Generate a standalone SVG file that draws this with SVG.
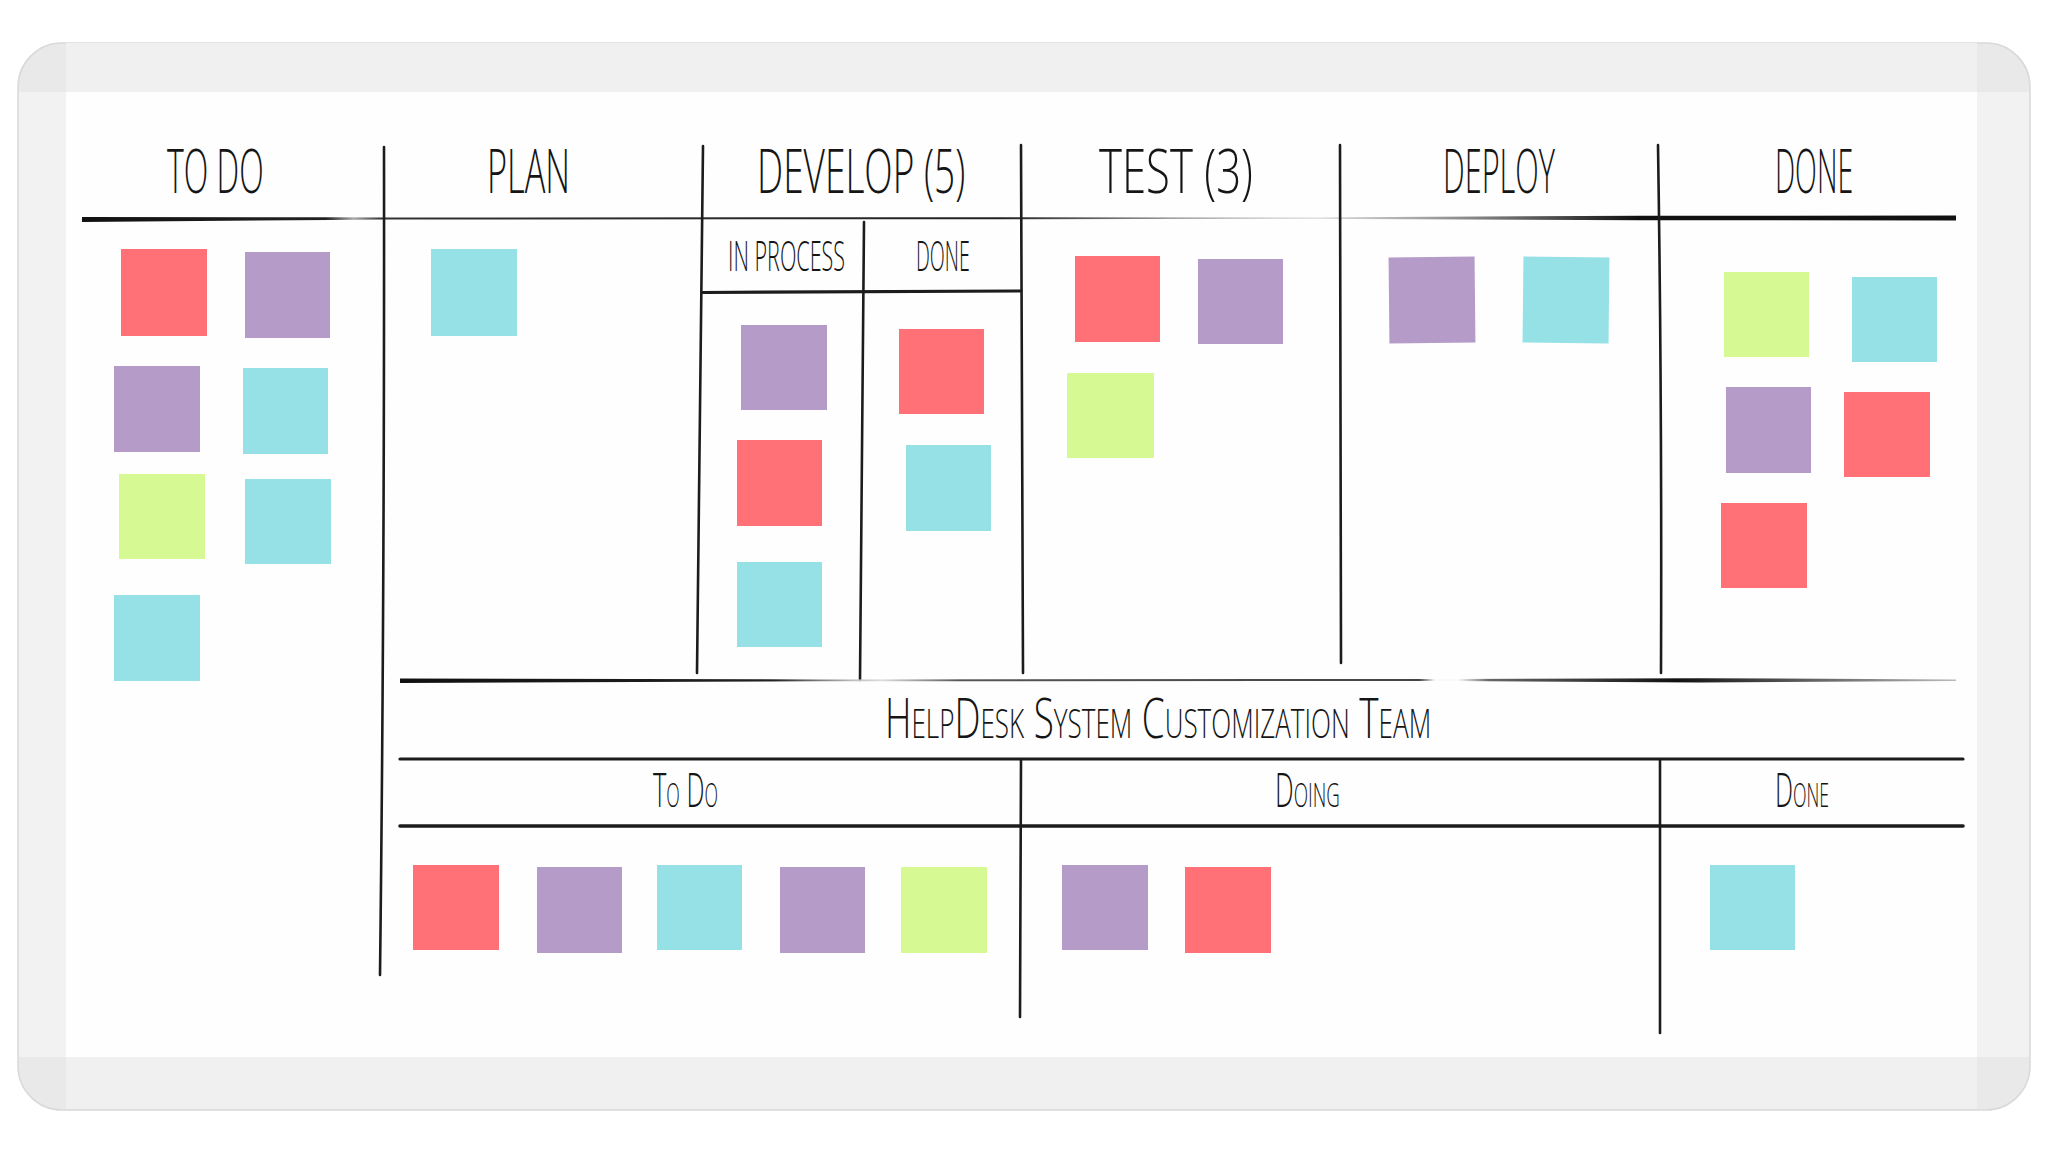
<svg xmlns="http://www.w3.org/2000/svg" width="2048" height="1152" viewBox="0 0 2048 1152">
  <defs>
    <style>
      .note { stroke: none; }
      .red { fill: #ff7176; }
      .purple { fill: #b59bc8; }
      .cyan { fill: #96e1e6; }
      .green { fill: #d7f994; }
      .ln { fill: none; stroke: #1c1c1c; stroke-linecap: round; }
      .v { stroke-width: 2.6; }
      .h { stroke-width: 3.2; }
      .hdr { font-family: "Open Sans", "DejaVu Sans", sans-serif; font-weight: 300; fill: #151515; }
      .big { font-size: 60px; }
      .sub { font-size: 42px; }
      .team { font-size: 56px; font-variant: small-caps; }
      .lane { font-size: 47px; font-variant: small-caps; }
    </style>
    <linearGradient id="gTop" gradientUnits="userSpaceOnUse" x1="82" y1="0" x2="1956" y2="0">
      <stop offset="0" stop-color="#111"/>
      <stop offset="0.13" stop-color="#222"/>
      <stop offset="0.145" stop-color="#aaa"/>
      <stop offset="0.16" stop-color="#333"/>
      <stop offset="0.49" stop-color="#222"/>
      <stop offset="0.58" stop-color="#999"/>
      <stop offset="0.66" stop-color="#ddd"/>
      <stop offset="0.74" stop-color="#888"/>
      <stop offset="0.83" stop-color="#111"/>
      <stop offset="1" stop-color="#111"/>
    </linearGradient>
    <linearGradient id="gTeam" gradientUnits="userSpaceOnUse" x1="400" y1="0" x2="1956" y2="0">
      <stop offset="0" stop-color="#111"/>
      <stop offset="0.24" stop-color="#222"/>
      <stop offset="0.29" stop-color="#bbb"/>
      <stop offset="0.31" stop-color="#ddd"/>
      <stop offset="0.36" stop-color="#555"/>
      <stop offset="0.655" stop-color="#444"/>
      <stop offset="0.665" stop-color="#fafafa"/>
      <stop offset="0.68" stop-color="#fafafa"/>
      <stop offset="0.70" stop-color="#666"/>
      <stop offset="0.82" stop-color="#111"/>
      <stop offset="0.93" stop-color="#777"/>
      <stop offset="1" stop-color="#bbb"/>
    </linearGradient>
  </defs>

  <rect x="0" y="0" width="2048" height="1152" fill="#ffffff"/>

  <g id="board">
    <rect x="18" y="43" width="2012" height="1067" rx="44" ry="44" fill="#e9e9ea" stroke="#d9d9da" stroke-width="1.5"/>
    <rect x="66" y="43" width="1911" height="49" fill="#f0f0f1"/>
    <rect x="66" y="1057" width="1911" height="52" fill="#f0f0f1"/>
    <rect x="19" y="92" width="47" height="965" fill="#f2f2f3"/>
    <rect x="1977" y="92" width="52" height="965" fill="#f2f2f3"/>
    <rect x="66" y="92" width="1911" height="965" fill="#fefefe"/>
  </g>

  <g id="connectors">
    <path d="M82,217 L330,217.2 L384,217.6 L1000,217.2 L1300,217.4 L1640,215.8 L1956,215.6 L1956,220.4 L1640,220.2 L1300,218.8 L1000,219.2 L384,219.6 L330,220 L82,222 Z" fill="url(#gTop)"/>
    <path class="ln v" d="M384,147 Q384.5,600 380,975"/>
    <path class="ln v" d="M703,146 L697,673"/>
    <path class="ln v" d="M864,222 L860,680"/>
    <path class="ln v" d="M1021,145 L1023,673"/>
    <path class="ln v" d="M1340,145 L1341,663"/>
    <path class="ln v" d="M1658,145 Q1662,400 1661,673"/>
    <path class="ln h" d="M703,292.5 L1021,291"/>
    <path d="M400,678.5 L820,679.4 L1420,679 L1455,679 L1700,678.2 L1956,679.5 L1956,681 L1700,682.6 L1455,681 L1420,681 L820,681.2 L400,683 Z" fill="url(#gTeam)"/>
    <path class="ln h" d="M400,759 L1963,759"/>
    <path class="ln" stroke-width="3.6" d="M400,826 L1963,826"/>
    <path class="ln v" d="M1021,760 L1020,1017"/>
    <path class="ln v" d="M1660,760 L1660,1033"/>
  </g>

  <g id="col-todo">
    <text class="hdr big" transform="translate(167,193) scale(0.52,1)" x="0" y="0" textLength="186" lengthAdjust="spacingAndGlyphs">TO DO</text>
    <rect class="note red" x="121" y="249" width="86" height="87"/>
    <rect class="note purple" x="245" y="252" width="85" height="86"/>
    <rect class="note purple" x="114" y="366" width="86" height="86"/>
    <rect class="note cyan" x="243" y="368" width="85" height="86"/>
    <rect class="note green" x="119" y="474" width="86" height="85"/>
    <rect class="note cyan" x="245" y="479" width="86" height="85"/>
    <rect class="note cyan" x="114" y="595" width="86" height="86"/>
  </g>

  <g id="col-plan">
    <text class="hdr big" transform="translate(487,193) scale(0.55,1)" x="0" y="0" textLength="151" lengthAdjust="spacingAndGlyphs">PLAN</text>
    <rect class="note cyan" x="431" y="249" width="86" height="87"/>
  </g>

  <g id="col-develop">
    <text class="hdr big" transform="translate(757,193) scale(0.6,1)" x="0" y="0" textLength="347" lengthAdjust="spacingAndGlyphs">DEVELOP (5)</text>
    <g id="develop-inprocess">
      <text class="hdr sub" transform="translate(728,271) scale(0.5,1)" x="0" y="0" textLength="234" lengthAdjust="spacingAndGlyphs">IN PROCESS</text>
      <rect class="note purple" x="741" y="325" width="86" height="85"/>
      <rect class="note red" x="737" y="440" width="85" height="86"/>
      <rect class="note cyan" x="737" y="562" width="85" height="85"/>
    </g>
    <g id="develop-done">
      <text class="hdr sub" transform="translate(916,271) scale(0.46,1)" x="0" y="0" textLength="117" lengthAdjust="spacingAndGlyphs">DONE</text>
      <rect class="note red" x="899" y="329" width="85" height="85"/>
      <rect class="note cyan" x="906" y="445" width="85" height="86"/>
    </g>
  </g>

  <g id="col-test">
    <text class="hdr big" transform="translate(1099,193) scale(0.7,1)" x="0" y="0" textLength="220" lengthAdjust="spacingAndGlyphs">TEST (3)</text>
    <rect class="note red" x="1075" y="256" width="85" height="86"/>
    <rect class="note purple" x="1198" y="259" width="85" height="85"/>
    <rect class="note green" x="1067" y="373" width="87" height="85"/>
  </g>

  <g id="col-deploy">
    <text class="hdr big" transform="translate(1443,193) scale(0.5,1)" x="0" y="0" textLength="224" lengthAdjust="spacingAndGlyphs">DEPLOY</text>
    <rect class="note purple" x="1389" y="257" width="86" height="86" transform="rotate(-0.6 1432 300)"/>
    <rect class="note cyan" x="1523" y="257" width="86" height="86" transform="rotate(0.6 1566 300)"/>
  </g>

  <g id="col-done">
    <text class="hdr big" transform="translate(1775,193) scale(0.46,1)" x="0" y="0" textLength="170" lengthAdjust="spacingAndGlyphs">DONE</text>
    <rect class="note green" x="1724" y="272" width="85" height="85"/>
    <rect class="note cyan" x="1852" y="277" width="85" height="85"/>
    <rect class="note purple" x="1726" y="387" width="85" height="86"/>
    <rect class="note red" x="1844" y="392" width="86" height="85"/>
    <rect class="note red" x="1721" y="503" width="86" height="85"/>
  </g>

  <g id="team-title">
    <text class="hdr team" transform="translate(885,738) scale(0.55,1)" x="0" y="0" textLength="993" lengthAdjust="spacingAndGlyphs">HelpDesk System Customization Team</text>
  </g>

  <g id="team-todo">
    <text class="hdr lane" transform="translate(653,807) scale(0.52,1)" x="0" y="0" textLength="125" lengthAdjust="spacingAndGlyphs">To Do</text>
    <rect class="note red" x="413" y="865" width="86" height="85"/>
    <rect class="note purple" x="537" y="867" width="85" height="86"/>
    <rect class="note cyan" x="657" y="865" width="85" height="85"/>
    <rect class="note purple" x="780" y="867" width="85" height="86"/>
    <rect class="note green" x="901" y="867" width="86" height="86"/>
  </g>

  <g id="team-doing">
    <text class="hdr lane" transform="translate(1275,807) scale(0.55,1)" x="0" y="0" textLength="118" lengthAdjust="spacingAndGlyphs">Doing</text>
    <rect class="note purple" x="1062" y="865" width="86" height="85"/>
    <rect class="note red" x="1185" y="867" width="86" height="86"/>
  </g>

  <g id="team-done">
    <text class="hdr lane" transform="translate(1775,807) scale(0.52,1)" x="0" y="0" textLength="104" lengthAdjust="spacingAndGlyphs">Done</text>
    <rect class="note cyan" x="1710" y="865" width="85" height="85"/>
  </g>
</svg>
